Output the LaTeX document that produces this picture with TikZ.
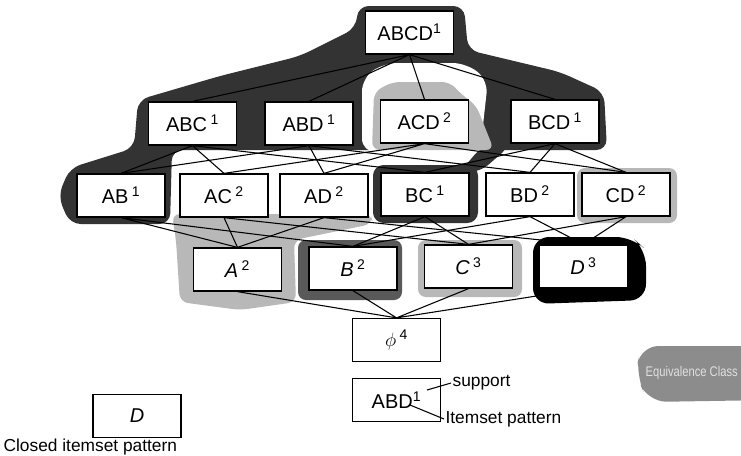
\documentclass[tikz,border=0pt]{standalone}
\usepackage{fontspec}
\setmainfont{Liberation Sans}
\newfontfamily\narrowsans[FakeStretch=0.8]{Liberation Sans}
\usetikzlibrary{calc}

\begin{document}
\begin{tikzpicture}[x=0.75pt, y=-0.75pt,
    itemset/.style={draw=black, fill=white, line width=1.2pt, minimum width=66pt, minimum height=32pt, inner sep=0pt, font=\fontsize{15}{18}\selectfont},
    darkclass/.style={fill=black!80, rounded corners=8pt},
    lightclass/.style={fill=black!28, rounded corners=6pt},
    edge/.style={line width=0.8pt},
    note/.style={anchor=west, inner sep=1pt, font=\fontsize{13}{15}\selectfont}]
        \useasboundingbox[fill=white] (0,0) rectangle (741,455);

        % 지지도 1 동치류 (검은 아치)
        \fill[darkclass] (358,6) -- (464,6) -- (468,50) -- (560,72) -- (604,92) -- (607,150)
            -- (172,150) -- (170,224) -- (70,224) -- (58,196) -- (70,168)
            -- (134,148) -- (138,100) -- (220,76) -- (300,56) -- (356,28) -- cycle;
        \fill[darkclass] (482,146) -- (510,146) -- (480,172) -- (460,172) -- cycle;
        \fill[darkclass] (373,165) rectangle (478,223);
        \fill[white, rounded corners=10pt] (362,152) -- (362,78) -- (384,63) -- (466,63) -- (488,80) -- (480,152) -- cycle;

        % 지지도 2, 3 동치류 (회색)
        \fill[lightclass] (372,150) -- (374,92) -- (392,82) -- (450,82) -- (462,95) -- (476,105) -- (494,150) -- cycle;
        \fill[lightclass] (172,214) -- (372,214) -- (372,224) -- (294,240) -- (296,302) -- (240,310) -- (180,302) -- (176,240) -- cycle;
        \fill[lightclass] (418,240) rectangle (522,297);
        \fill[lightclass] (577,168) rectangle (677,223);
        \fill[black!65, rounded corners=6pt] (298,240) rectangle (402,300);

        % 닫힌 항목집합 D
        \fill[black, rounded corners=12pt] (533,237) -- (632,237) -- (646,250) -- (646,300) -- (533,304) -- cycle;

        % 격자의 노드들
        \node[itemset] (abcd) at (409.5,32.5) {ABCD\textsuperscript{1}};

        \node[itemset] (abc) at (192.5,123.5) {ABC\,\textsuperscript{1}};
        \node[itemset] (abd) at (309,123.5) {ABD\,\textsuperscript{1}};
        \node[itemset] (acd) at (424.5,121.5) {ACD\,\textsuperscript{2}};
        \node[itemset] (bcd) at (555,121.5) {BCD\,\textsuperscript{1}};

        \node[itemset] (ab) at (121,195.5) {AB\,\textsuperscript{1}};
        \node[itemset] (ac) at (224,195.5) {AC\,\textsuperscript{2}};
        \node[itemset] (ad) at (324,195.5) {AD\,\textsuperscript{2}};
        \node[itemset] (bc) at (425,194.5) {BC\,\textsuperscript{1}};
        \node[itemset] (bd) at (530,194.5) {BD\,\textsuperscript{2}};
        \node[itemset] (cd) at (626,194.5) {CD\,\textsuperscript{2}};

        \node[itemset] (a) at (237.5,269.5) {\textit{A}\,\textsuperscript{2}};
        \node[itemset] (b) at (353,268.5) {\textit{B}\,\textsuperscript{2}};
        \node[itemset] (c) at (468.5,266.5) {\textit{C}\,\textsuperscript{3}};
        \node[itemset] (d) at (583.5,266.5) {\textit{D}\,\textsuperscript{3}};

        \node[itemset] (empty) at (396.5,340) {$\phi$\,\textsuperscript{4}};

        % 격자의 간선들
        \draw[edge] (abcd.south) -- (abc.north) (abcd.south) -- (abd.north) (abcd.south) -- (acd.north) (abcd.south) -- (bcd.north);
        \draw[edge] (abc.south) -- (ab.north) (abc.south) -- (ac.north) (abc.south) -- (bc.north);
        \draw[edge] (abd.south) -- (ab.north) (abd.south) -- (ad.north) (abd.south) -- (bd.north);
        \draw[edge] (acd.south) -- (ac.north) (acd.south) -- (ad.north) (acd.south) -- (cd.north);
        \draw[edge] (bcd.south) -- (bc.north) (bcd.south) -- (bd.north) (bcd.south) -- (cd.north);
        \draw[edge] (ab.south) -- (a.north) (ab.south) -- (b.north);
        \draw[edge] (ac.south) -- (a.north) (ac.south) -- (c.north);
        \draw[edge] (ad.south) -- (a.north) (ad.south) -- (d.north);
        \draw[edge] (bc.south) -- (b.north) (bc.south) -- (c.north);
        \draw[edge] (bd.south) -- (b.north) (bd.south) -- (d.north);
        \draw[edge] (cd.south) -- (c.north) (cd.south) -- (d.north);
        \draw[edge] (a.south) -- (empty.north) (b.south) -- (empty.north) (c.south) -- (empty.north) (d.south) -- (empty.north);

        % 범례
        \node[itemset] (key) at (396.5,400) {ABD\textsuperscript{1}};
        \coordinate (suptip) at (427,390);
        \coordinate (pattip) at (410,405);
        \node[note] (supp) at (451,383) {support};
        \node[note] (patt) at (444,419) {Itemset pattern};
        \draw[edge] (suptip) -- (supp.west);
        \draw[edge] (pattip) -- (patt.west);

        \node[itemset] (closedkey) at (137,416) {\textit{D}};
        \node[note] (closedtxt) at (2,447) {Closed itemset pattern};

        \begin{scope}
            \clip (0,0) rectangle (741,455);
            \fill[black!45, rounded corners=14pt] (640,346) -- (770,346) -- (770,400) -- (648,402) -- (636,375) -- cycle;
            \node[anchor=west, inner sep=1pt, text=black!12, font=\narrowsans\fontsize{10.5}{13}\selectfont] (eqlabel) at (644,373) {Equivalence Class};
        \end{scope}
\end{tikzpicture}
\end{document}
